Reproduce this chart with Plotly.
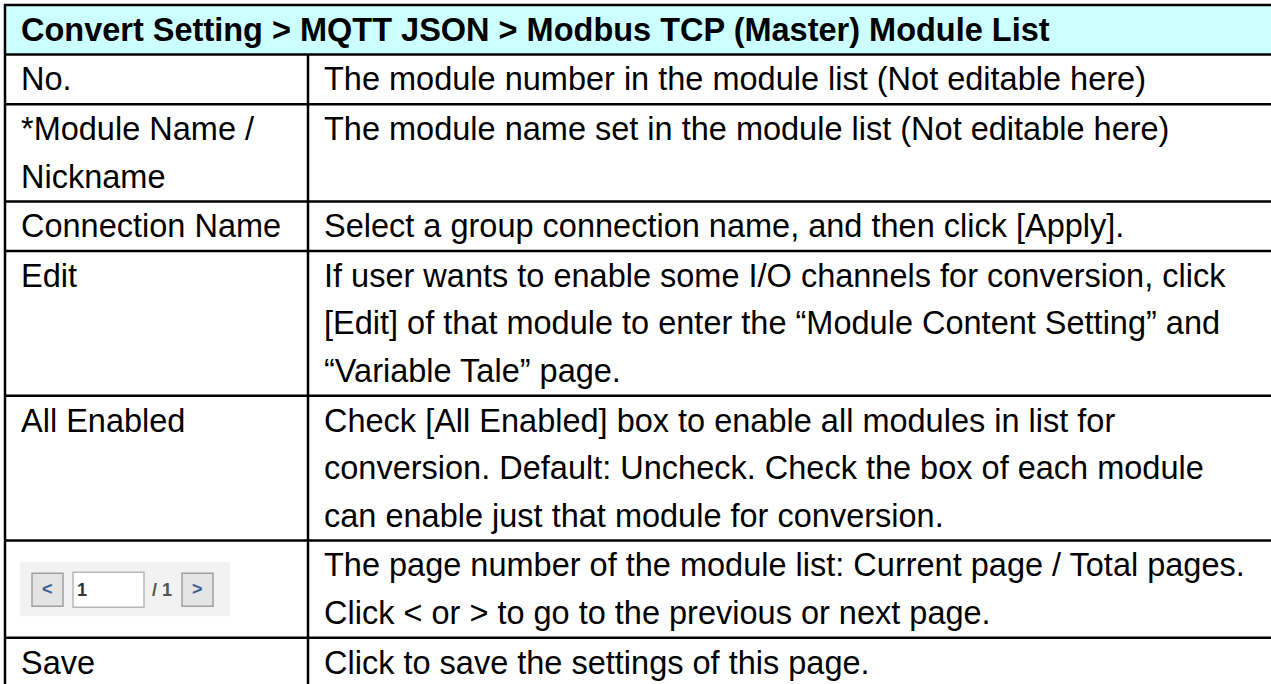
import plotly.graph_objects as go

# ---- content ----
title = "Convert Setting &gt; MQTT JSON &gt; Modbus TCP (Master) Module List"
row_labels = [
    ["No."],
    ["*Module Name /", "Nickname"],
    ["Connection Name"],
    ["Edit"],
    ["All Enabled"],
    [""],
    ["Save"],
]
row_descriptions = [
    ["The module number in the module list (Not editable here)"],
    ["The module name set in the module list (Not editable here)"],
    ["Select a group connection name, and then click [Apply]."],
    ["If user wants to enable some I/O channels for conversion, click",
     "[Edit] of that module to enter the \u201cModule Content Setting\u201d and",
     "\u201cVariable Tale\u201d page."],
    ["Check [All Enabled] box to enable all modules in list for",
     "conversion. Default: Uncheck. Check the box of each module",
     "can enable just that module for conversion."],
    ["The page number of the module list: Current page / Total pages.",
     "Click &lt; or &gt; to go to the previous or next page."],
    ["Click to save the settings of this page."],
]
pager_row = 5
pager_current = "1"
pager_total = "/ 1"

# ---- layout constants ----
W, H = 1271, 684
X0, XDIV = 5, 308
Y0 = 5
LINE_H = 47.6
PAD = 2.0
FONT = "Liberation Sans, Arial, sans-serif"
FS = 32.5
LW = 2.5
XL, XR = 19, 322

fig = go.Figure()
shapes = []
ann = []

# header
hdr_bottom = Y0 + LINE_H + PAD
shapes.append(dict(type="rect", x0=X0, x1=W + 5, y0=Y0, y1=hdr_bottom,
                   fillcolor="#CCFFFF", line=dict(width=0), layer="below"))
ann.append(dict(x=XL, y=(Y0 + hdr_bottom) / 2, text="<b>" + title + "</b>",
                xanchor="left", yanchor="middle", showarrow=False,
                font=dict(family=FONT, size=FS, color="#000")))

# row boundaries
bounds = [Y0, hdr_bottom]
y = hdr_bottom
for lab, desc in zip(row_labels, row_descriptions):
    n = max(len(lab), len(desc))
    y += n * LINE_H + PAD
    bounds.append(y)

# horizontal lines
for b in bounds[:-1]:
    shapes.append(dict(type="line", x0=X0 - 1, x1=W + 5, y0=b, y1=b,
                       line=dict(color="#000", width=LW)))
# left border & divider
shapes.append(dict(type="line", x0=X0, x1=X0, y0=Y0 - 1, y1=H + 5,
                   line=dict(color="#000", width=LW)))
shapes.append(dict(type="line", x0=XDIV, x1=XDIV, y0=hdr_bottom, y1=H + 5,
                   line=dict(color="#000", width=LW)))

# texts
for i, (lab, desc) in enumerate(zip(row_labels, row_descriptions)):
    top = bounds[i + 1] + PAD / 2
    for j, t in enumerate(lab):
        if t:
            ann.append(dict(x=XL, y=top + (j + 0.5) * LINE_H, text=t,
                            xanchor="left", yanchor="middle", showarrow=False,
                            font=dict(family=FONT, size=FS, color="#000")))
    for j, t in enumerate(desc):
        ann.append(dict(x=XR, y=top + (j + 0.5) * LINE_H, text=t,
                        xanchor="left", yanchor="middle", showarrow=False,
                        font=dict(family=FONT, size=FS, color="#000")))

# pager widget in the pager row
ptop, pbot = bounds[pager_row + 1], bounds[pager_row + 2]
cy = (ptop + pbot) / 2
shapes.append(dict(type="rect", x0=20, x1=230, y0=cy - 27, y1=cy + 27,
                   fillcolor="#F2F2F2", line=dict(width=0)))
for bx0, bx1 in [(32, 63), (182, 213)]:
    shapes.append(dict(type="rect", x0=bx0, x1=bx1, y0=cy - 16, y1=cy + 17,
                       fillcolor="#E4E4E4", line=dict(color="#A0A0A0", width=1.5)))
shapes.append(dict(type="rect", x0=73, x1=144, y0=cy - 17, y1=cy + 18,
                   fillcolor="#FFFFFF", line=dict(color="#B8B8B8", width=1.5)))
ann.append(dict(x=47.5, y=cy, text="<b>&lt;</b>", showarrow=False, xanchor="center",
                yanchor="middle", font=dict(family=FONT, size=18, color="#3d5f8f")))
ann.append(dict(x=197.5, y=cy, text="<b>&gt;</b>", showarrow=False, xanchor="center",
                yanchor="middle", font=dict(family=FONT, size=18, color="#3d5f8f")))
ann.append(dict(x=75, y=cy + 1, text="<b>" + pager_current + "</b>", showarrow=False,
                xanchor="left", yanchor="middle",
                font=dict(family=FONT, size=18, color="#333")))
ann.append(dict(x=150, y=cy + 1, text="<b>" + pager_total + "</b>", showarrow=False,
                xanchor="left", yanchor="middle",
                font=dict(family=FONT, size=18, color="#555")))

fig.update_layout(
    width=W, height=H, margin=dict(l=0, r=0, t=0, b=0),
    paper_bgcolor="white", plot_bgcolor="white",
    xaxis=dict(range=[0, W], visible=False, fixedrange=True),
    yaxis=dict(range=[H, 0], visible=False, fixedrange=True),
    shapes=shapes, annotations=ann, showlegend=False,
)
fig.write_html("out.html", config={"displayModeBar": False},
               post_script="document.body.style.margin='0';document.body.style.overflow='hidden';")
